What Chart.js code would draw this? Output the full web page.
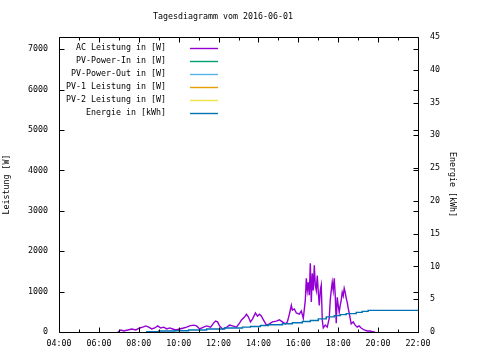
<!DOCTYPE html>
<html>
<head>
<meta charset="utf-8">
<script src="https://cdn.jsdelivr.net/npm/chart.js@4/dist/chart.umd.min.js"></script>
<style>
  html, body { margin: 0; padding: 0; background: #fff; }
  #wrap { width: 480px; height: 360px; }
</style>
</head>
<body>
<div id="wrap"><canvas id="chart" width="480" height="360"></canvas></div>
<script>
const title = "Tagesdiagramm vom 2016-06-01";
const labels = [
  "AC Leistung in [W]",
  "PV-Power-In in [W]",
  "PV-Power-Out in [W]",
  "PV-1 Leistung in [W]",
  "PV-2 Leistung in [W]",
  "Energie in [kWh]",
];
const lineColors = ["#9400d3", "#009e73", "#56b4e9", "#e69f00", "#f0e442", "#0072b2"];

// time in hours, power in W
const acHours = [
  6.95, 7.1, 7.25, 7.45, 7.65, 7.85, 8.05, 8.2, 8.35, 8.5, 8.65, 8.8, 8.95, 9.1,
  9.25, 9.4, 9.55, 9.7, 9.85, 10.05, 10.25, 10.4, 10.55, 10.75, 10.9, 11.05,
  11.25, 11.4, 11.6, 11.75, 11.85, 11.95, 12.05, 12.2, 12.35, 12.55, 12.7, 12.9,
  13.05, 13.15, 13.3, 13.4, 13.5, 13.6, 13.7, 13.85, 13.95, 14.05, 14.15, 14.25,
  14.4, 14.55, 14.7, 14.9, 15.05, 15.2, 15.35, 15.45, 15.55, 15.65, 15.7, 15.8,
  15.9, 16.05, 16.15, 16.25, 16.35, 16.4, 16.45, 16.5, 16.55, 16.6, 16.65, 16.7,
  16.75, 16.8, 16.85, 16.9, 16.95, 17.0, 17.05, 17.1, 17.15, 17.2, 17.25, 17.35,
  17.45, 17.55, 17.6, 17.65, 17.7, 17.75, 17.8, 17.85, 17.9, 17.95, 18.0, 18.05,
  18.1, 18.15, 18.2, 18.25, 18.3, 18.35, 18.4, 18.45, 18.5, 18.55, 18.65, 18.75,
  18.85, 18.95, 19.05, 19.15, 19.3, 19.45, 19.6, 19.75, 19.85,
];
const acWatts = [
  0, 50, 25, 50, 75, 50, 100, 120, 150, 120, 75, 100, 150, 100,
  120, 75, 100, 75, 50, 75, 100, 120, 150, 170, 150, 75,
  120, 150, 120, 220, 270, 250, 150, 75, 100, 170, 150, 120,
  220, 300, 370, 440, 370, 250, 320, 470, 390, 440, 390, 300,
  170, 200, 250, 270, 300, 250, 200, 250, 440, 660, 540, 570,
  470, 440, 520, 340, 790, 1330, 1030, 1230, 910, 1700, 740, 1450,
  1030, 1650, 1160, 1030, 1400, 980, 660, 1030, 1160, 300, 100, 170,
  120, 340, 790, 1030, 1230, 1030, 1330, 910, 220, 860, 660, 490,
  660, 790, 980, 890, 1080, 980, 840, 740, 590, 470, 200, 250,
  170, 120, 150, 100, 50, 25, 25, 0, 0,
];

// cumulative energy in kWh
const energyHours = [
  8.4, 9.0, 9.8, 10.5, 11.4, 12.3, 13.2, 13.6, 14.1, 14.5, 15.2, 15.7,
  16.2, 16.6, 17.0, 17.4, 17.8, 18.1, 18.4, 18.9, 19.2, 19.5, 19.8, 22.0,
];
const energyKwh = [
  0, 0.05, 0.15, 0.2, 0.3, 0.45, 0.6, 0.75, 0.85, 1.0, 1.1, 1.25,
  1.4, 1.6, 1.75, 2.0, 2.3, 2.5, 2.65, 2.8, 3.0, 3.15, 3.3, 3.3,
];

const hourTicks = [4, 6, 8, 10, 12, 14, 16, 18, 20, 22];
const powerTicks = [0, 1000, 2000, 3000, 4000, 5000, 6000, 7000];
const energyTicks = [0, 5, 10, 15, 20, 25, 30, 35, 40, 45];

Chart.defaults.font.family = "'DejaVu Sans Mono', monospace";
Chart.defaults.font.size = 8.3;
Chart.defaults.color = "#000";

function toPoints(xs, ys) {
  return xs.map((x, i) => ({ x: x, y: ys[i] }));
}

function line(label, data, color, axis, extra) {
  return Object.assign({
    label: label,
    data: data,
    borderColor: color,
    backgroundColor: color,
    borderWidth: 1.4,
    pointRadius: 0,
    tension: 0,
    yAxisID: axis,
    order: 1,
  }, extra || {});
}

const frame = {
  id: "frame",
  afterDraw(chart) {
    const ctx = chart.ctx;
    const a = chart.chartArea;
    const sx = chart.scales.x, sy = chart.scales.y, sy2 = chart.scales.y2;
    const L = Math.round(a.left) + 0.5, R = Math.round(a.right) + 0.5;
    const T = Math.round(a.top) + 0.5, B = Math.round(a.bottom) + 0.5;
    ctx.save();
    ctx.strokeStyle = "#000";
    ctx.lineWidth = 1;
    ctx.beginPath();
    ctx.rect(L, T, R - L, B - T);
    for (let h = 4; h <= 22; h++) {
      const px = Math.round(sx.getPixelForValue(h)) + 0.5;
      const len = h % 2 === 0 ? 5 : 3;
      ctx.moveTo(px, B); ctx.lineTo(px, B - len);
      ctx.moveTo(px, T); ctx.lineTo(px, T + len);
    }
    sy.ticks.forEach((t) => {
      const py = Math.round(sy.getPixelForValue(t.value)) + 0.5;
      ctx.moveTo(L, py); ctx.lineTo(L + 5, py);
      ctx.moveTo(R, py); ctx.lineTo(R - 5, py);
    });
    sy2.ticks.forEach((t) => {
      const py = Math.round(sy2.getPixelForValue(t.value)) + 0.5;
      ctx.moveTo(R, py); ctx.lineTo(R - 5, py);
    });
    ctx.stroke();

    // title
    ctx.fillStyle = "#000";
    ctx.font = "8.3px 'DejaVu Sans Mono', monospace";
    ctx.textAlign = "center";
    ctx.textBaseline = "middle";
    ctx.fillText(title, 223, 17);

    // key
    ctx.textAlign = "right";
    chart.data.datasets.forEach((ds, i) => {
      const y = 48 + i * 13;
      ctx.fillText(ds.label, 166, y);
      ctx.strokeStyle = ds.borderColor;
      ctx.lineWidth = 1.4;
      ctx.beginPath();
      ctx.moveTo(190, y + 0.5);
      ctx.lineTo(218, y + 0.5);
      ctx.stroke();
    });
    ctx.restore();
  },
};

new Chart(document.getElementById("chart"), {
  type: "line",
  data: {
    datasets: [
      line(labels[0], toPoints(acHours, acWatts), lineColors[0], "y"),
      line(labels[1], [], lineColors[1], "y"),
      line(labels[2], [], lineColors[2], "y"),
      line(labels[3], [], lineColors[3], "y"),
      line(labels[4], [], lineColors[4], "y"),
      line(labels[5], toPoints(energyHours, energyKwh), lineColors[5], "y2", { stepped: "after", order: 0 }),
    ],
  },
  options: {
    responsive: false,
    animation: false,
    parsing: false,
    layout: { autoPadding: false, padding: { top: 37, left: 0, right: 0, bottom: 0 } },
    plugins: { legend: { display: false }, tooltip: { enabled: false }, title: { display: false } },
    scales: {
      x: {
        type: "linear",
        min: 4,
        max: 22,
        afterBuildTicks: (s) => { s.ticks = hourTicks.map((v) => ({ value: v })); },
        afterFit: (s) => { s.height = 28; },
        grid: { display: false, drawTicks: false },
        border: { display: false },
        ticks: {
          padding: 7,
          maxRotation: 0,
          autoSkip: false,
          callback: (v) => String(v).padStart(2, "0") + ":00",
        },
      },
      y: {
        position: "left",
        min: 0,
        max: 7300,
        afterBuildTicks: (s) => { s.ticks = powerTicks.map((v) => ({ value: v })); },
        afterFit: (s) => { s.width = 59; },
        grid: { display: false, drawTicks: false },
        border: { display: false },
        ticks: { padding: 11, autoSkip: false, callback: (v) => String(v) },
        title: { display: true, text: "Leistung [W]", padding: { top: 2, bottom: 0 } },
      },
      y2: {
        position: "right",
        min: 0,
        max: 45,
        afterBuildTicks: (s) => { s.ticks = energyTicks.map((v) => ({ value: v })); },
        afterFit: (s) => { s.width = 62; },
        grid: { display: false, drawTicks: false },
        border: { display: false },
        ticks: { padding: 12, autoSkip: false, callback: (v) => String(v) },
        title: { display: true, text: "Energie [kWh]", padding: { top: 23, bottom: 0 } },
      },
    },
  },
  plugins: [frame],
});
</script>
</body>
</html>
